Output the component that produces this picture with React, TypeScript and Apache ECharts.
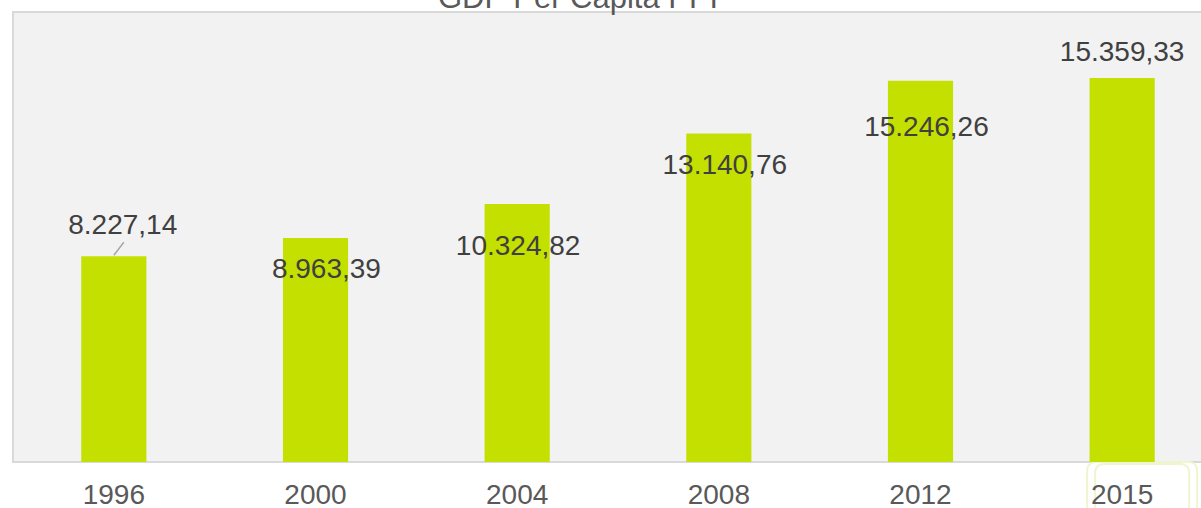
import React, { useEffect, useRef } from "react";
import * as echarts from "echarts";

const categories = ["1996", "2000", "2004", "2008", "2012", "2015"];
const gdpValues = [8227.14, 8963.39, 10324.82, 13140.76, 15246.26, 15359.33];
const valueLabels = ["8.227,14", "8.963,39", "10.324,82", "13.140,76", "15.246,26", "15.359,33"];
// label centre relative to bar's top-left corner
const labelPositions: [number, number][] = [
  [41.5, -32],
  [43.5, 31],
  [33.5, 42],
  [38.5, 31],
  [38.5, 46],
  [32.5, -27],
];

const FONT = "'Liberation Sans', Arial, Helvetica, sans-serif";

export default function App() {
  const ref = useRef<HTMLDivElement>(null);
  useEffect(() => {
    if (!ref.current) return;
    const chart = echarts.init(ref.current, undefined, { renderer: "svg" });
    chart.setOption({
      animation: false,
      title: {
        text: "GDP Per Capita PPP",
        left: 433,
        top: -23,
        textStyle: { fontFamily: FONT, fontSize: 31, fontWeight: "normal", color: "#595959" },
      },
      grid: {
        left: 13,
        right: 2,
        top: 12,
        bottom: 46,
        show: true,
        backgroundColor: "#f2f2f2",
        borderColor: "#d9d9d9",
        borderWidth: 2,
      },
      xAxis: {
        type: "category",
        data: categories,
        axisLine: { show: false },
        axisTick: { show: false },
        axisLabel: { fontFamily: FONT, fontSize: 28, color: "#595959", margin: 18 },
      },
      yAxis: {
        type: "value",
        min: 0,
        max: 18000,
        show: false,
        splitLine: { show: false },
      },
      series: [
        {
          type: "bar",
          barWidth: "32.3%",
          itemStyle: { color: "#c4e000" },
          data: gdpValues.map((v, i) => ({
            value: v,
            label: {
              show: true,
              position: labelPositions[i],
              align: "center",
              verticalAlign: "middle",
              formatter: () => valueLabels[i],
              fontFamily: FONT,
              fontSize: 28,
              color: "#404040",
            },
          })),
        },
      ],
    });
    const top = chart.convertToPixel({ gridIndex: 0 }, [0, gdpValues[0]]) as number[];
    const last = chart.convertToPixel({ gridIndex: 0 }, [5, 0]) as number[];
    chart.setOption({
      graphic: [
        {
          type: "line",
          shape: { x1: top[0] + 10, y1: top[1] - 14, x2: top[0], y2: top[1] - 1 },
          style: { stroke: "#a6a6a6", lineWidth: 1.5 },
        },
        {
          type: "rect",
          shape: { x: last[0] - 35, y: last[1], width: 110, height: 60, r: 8 },
          style: { fill: "none", stroke: "#eef5cf", lineWidth: 2 },
        },
        {
          type: "rect",
          shape: { x: last[0] - 27, y: last[1] + 2, width: 94, height: 60, r: 8 },
          style: { fill: "none", stroke: "#eef5cf", lineWidth: 2 },
        },
      ],
    });
    return () => chart.dispose();
  }, []);
  return (
    <div
      style={{
        position: "absolute",
        left: 0,
        top: 0,
        width: 1201,
        height: 508,
        overflow: "hidden",
      }}
    >
      <div ref={ref} style={{ width: 1225, height: 508 }} />
    </div>
  );
}
